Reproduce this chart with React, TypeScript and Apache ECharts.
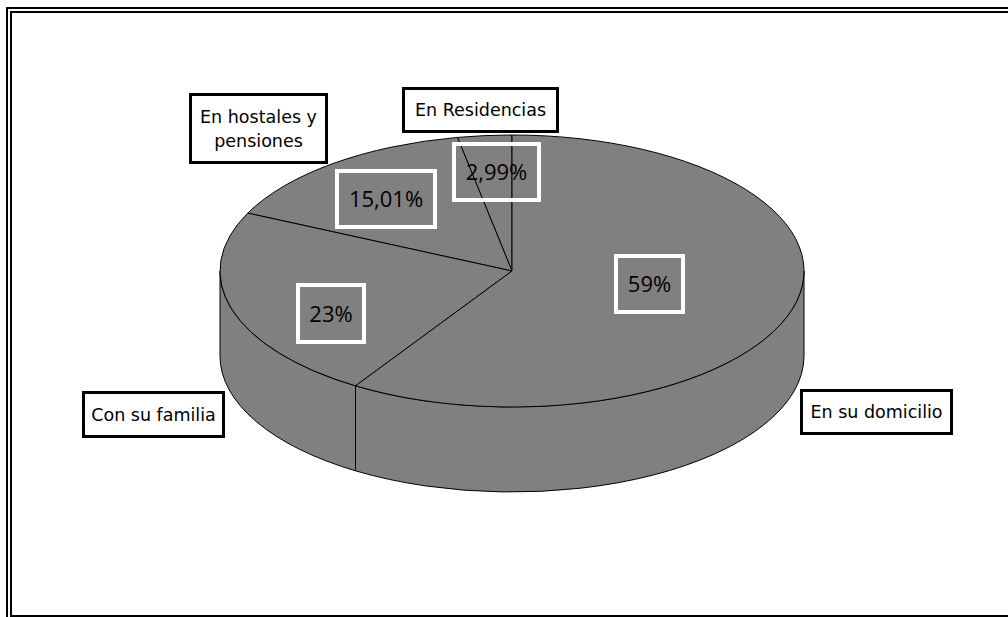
import React, { useEffect, useRef } from "react";
import * as echarts from "echarts";

const categories = ["En Residencias", "En hostales y\npensiones", "Con su familia", "En su domicilio"];
const shares = [2.99, 15.01, 23, 59];
const percentLabels = ["2,99%", "15,01%", "23%", "59%"];

const CX = 512, CY = 271, RX = 292, RY = 136, DEPTH = 85;
const FONT = '"Open Sans", sans-serif';
const LABEL_FONT = '"DejaVu Sans", sans-serif';

const catBoxes = [
  [403.5, 88.5, 154, 43],
  [190.5, 94.5, 136, 68],
  [83.5, 392.5, 140, 44],
  [801.5, 390.5, 150, 43],
];
const pctBoxes = [
  [454, 144, 85, 56],
  [337, 171, 98, 56],
  [298, 285, 66, 57],
  [616, 256, 67, 56],
];

const pt = (deg: number, dy = 0) => {
  const a = (deg * Math.PI) / 180;
  return [CX - RX * Math.sin(a), CY - RY * Math.cos(a) + dy];
};

function renderSlice(params: any, api: any) {
  const i = params.dataIndex;
  const total = shares.reduce((s, v) => s + v, 0);
  const before = shares.slice(0, i).reduce((s, v) => s + v, 0);
  const a0 = (before / total) * 360;
  const a1 = ((before + api.value(0)) / total) * 360;
  const style = { fill: "#808080", stroke: "#000", lineWidth: 1 };
  const children: any[] = [];
  const s0 = Math.max(a0, 90), s1 = Math.min(a1, 270);
  if (s1 > s0) {
    const [x0, y0] = pt(s0);
    const [x1, y1] = pt(s1);
    const [x2, y2] = pt(s1, DEPTH);
    const [x3, y3] = pt(s0, DEPTH);
    children.push({
      type: "path",
      shape: {
        pathData: `M${x0} ${y0}A${RX} ${RY} 0 0 0 ${x1} ${y1}L${x2} ${y2}A${RX} ${RY} 0 0 1 ${x3} ${y3}Z`,
      },
      style,
    });
  }
  const [tx0, ty0] = pt(a0);
  const [tx1, ty1] = pt(a1);
  const large = a1 - a0 > 180 ? 1 : 0;
  children.push({
    type: "path",
    shape: {
      pathData: `M${CX} ${CY}L${tx0} ${ty0}A${RX} ${RY} 0 ${large} 0 ${tx1} ${ty1}Z`,
    },
    style,
  });
  return { type: "group", children };
}

export default function App() {
  const ref = useRef<HTMLDivElement>(null);
  useEffect(() => {
    const chart = echarts.init(ref.current!, null, { renderer: "svg" });
    const line = (x1: number, y1: number, x2: number, y2: number, w = 2) => ({
      type: "line", shape: { x1, y1, x2, y2 }, style: { stroke: "#000", lineWidth: w }, silent: true,
    });
    const graphics: any[] = [
      line(6, 8, 1008, 8),
      line(10, 12, 1008, 12),
      line(7, 7, 7, 617),
      line(11, 11, 11, 617),
      line(11, 616, 1008, 616),
    ];
    categories.forEach((c, i) => {
      const [x, y, w, h] = catBoxes[i];
      graphics.push({
        type: "rect", z: 10, shape: { x, y, width: w, height: h },
        style: { fill: "#fff", stroke: "#000", lineWidth: 3 },
      });
      graphics.push({
        type: "text", z: 11, x: x + w / 2, y: y + h / 2,
        style: {
          text: c, fill: "#000", font: `17.5px ${LABEL_FONT}`, align: "center", verticalAlign: "middle", lineHeight: 24,
        },
      });
    });
    percentLabels.forEach((p, i) => {
      const [x, y, w, h] = pctBoxes[i];
      graphics.push({
        type: "rect", z: 10, shape: { x, y, width: w, height: h },
        style: { fill: "transparent", stroke: "#fff", lineWidth: 4 },
      });
      graphics.push({
        type: "text", z: 11, x: x + w / 2, y: y + h / 2 - 1,
        style: { text: p, fill: "#000", font: `22px ${FONT}`, align: "center", verticalAlign: "middle" },
      });
    });
    chart.setOption({
      animation: false,
      backgroundColor: "#fff",
      series: [
        {
          type: "custom",
          coordinateSystem: "none",
          renderItem: renderSlice,
          data: shares.map((v, i) => ({ name: categories[i], value: [v] })),
          silent: true,
          clip: false,
        },
      ],
      graphic: graphics,
    });
    return () => chart.dispose();
  }, []);
  return (
    <div style={{ position: "fixed", left: 0, top: 0, width: 1008, height: 617, background: "#fff" }}>
      <div ref={ref} style={{ width: 1008, height: 617 }} />
    </div>
  );
}
